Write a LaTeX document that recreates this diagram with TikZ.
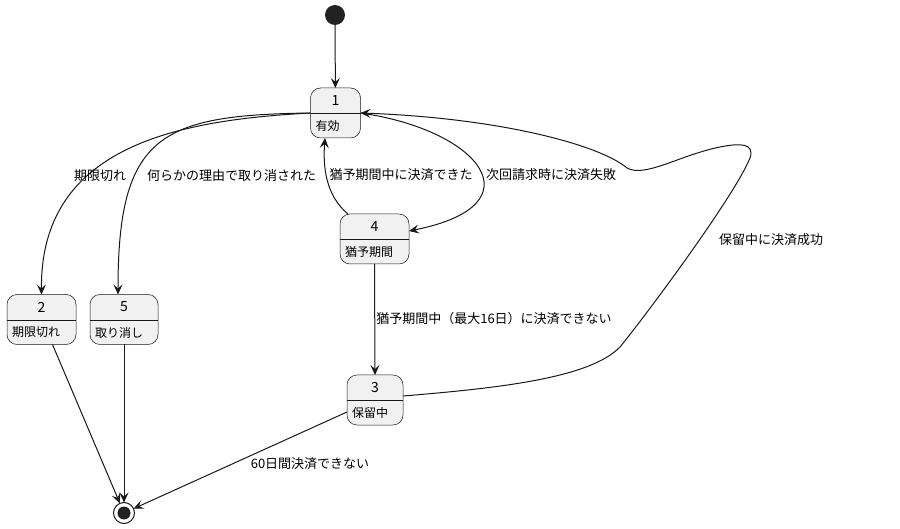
\documentclass[tikz,border=0pt]{standalone}
\usepackage{fontspec}
\setmainfont{Noto Sans CJK JP}
\usetikzlibrary{arrows.meta,calc}
\definecolor{stfill}{HTML}{F1F1F1}
\definecolor{ink}{HTML}{181818}
\definecolor{dot}{HTML}{222222}
\tikzset{
 stbox/.style={draw=ink, line width=0.5pt, fill=stfill, rounded corners=10pt, inner sep=0pt, outer sep=0pt, minimum height=50pt},
 conn/.style={draw=ink, line width=1pt, -{Stealth[length=10pt,width=9pt,inset=4pt]}},
 lbl/.style={font=\fontsize{13}{15}\selectfont, text=black, inner sep=0pt},
 sttitle/.style={font=\fontsize{14}{16}\selectfont, inner sep=0pt},
 stdesc/.style={font=\fontsize{12}{14}\selectfont, inner sep=0pt, anchor=west},
}
\newcommand\mkstate[5]{%
 \node[stbox, minimum width=#3pt] (#1) at #2 {};
 \draw[ink, line width=0.5pt] ($(#1.north west)+(0,25.5)$) -- ($(#1.north east)+(0,25.5)$);
 \node[sttitle] (#1t) at ($(#1.north)+(0,12.5)$) {#4};
 \node[stdesc] (#1d) at ($(#1.north west)+(5,38)$) {#5};
}
\begin{document}
\begin{tikzpicture}[x=1pt,y=-1pt]
\useasboundingbox (0,0) rectangle (900,529);
% start / end
\node[circle, fill=dot, minimum size=20pt, inner sep=0pt, outer sep=0pt] (start) at (335,15) {};
\node[circle, draw=ink, line width=1pt, fill=white, minimum size=21pt, inner sep=0pt, outer sep=0pt] (endst) at (124,513) {};
\node[circle, fill=dot, minimum size=13pt, inner sep=0pt] (endin) at (124,513) {};
% states
\mkstate{s1}{(335.5,113)}{50}{1}{有効}
\mkstate{s4}{(374.5,239)}{69}{4}{猶予期間}
\mkstate{s2}{(41.5,319.5)}{69}{2}{期限切れ}
\mkstate{s5}{(124,319.5)}{68}{5}{取り消し}
\mkstate{s3}{(375,400)}{56}{3}{保留中}
% connectors
\draw[conn] (start) -- (s1);
\draw[conn] (s1.west) .. controls (180,120) and (40,145) .. (s2.north);
\draw[conn] (s1.west) .. controls (160,115) and (118,135) .. ([xshift=-6pt]s5.north);
\draw[conn] ([xshift=-26.5pt]s4.north) .. controls (325,195) and (323,165) .. ([xshift=-10.5pt]s1.south);
\draw[conn] (s1.east) .. controls (480,130) and (540,205) .. ([yshift=8pt]s4.east);
\draw[conn] (s4.south) -- (s3.north);
\draw[conn] ([yshift=4pt]s3.east) .. controls (500,388) and (590,378) .. (620,347)
  .. controls (650,310) and (735,195) .. (750,158)
  .. controls (755,143) and (740,143) .. (720,147)
  .. controls (680,155) and (645,178) .. (627,168)
  .. controls (600,145) and (500,118) .. (s1.east);
\draw[conn] ([xshift=11pt]s2.south) -- (endst);
\draw[conn] (s5.south) -- (endst);
\draw[conn] ([yshift=-12pt]s3.west) -- (endst);
% labels
\node[lbl] (l12) at (100,176) {期限切れ};
\node[lbl] (l15) at (231.5,176) {何らかの理由で取り消された};
\node[lbl] (l41) at (401,175) {猶予期間中に決済できた};
\node[lbl] (l14) at (551,175) {次回請求時に決済失敗};
\node[lbl] (l43) at (494,319) {猶予期間中（最大16日）に決済できない};
\node[lbl] (l31) at (771,240) {保留中に決済成功};
\node[lbl] (l3e) at (310,464) {60日間決済できない};
\end{tikzpicture}
\end{document}
